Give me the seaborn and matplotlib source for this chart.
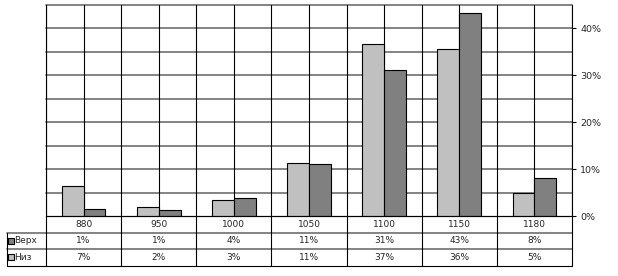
import numpy as np
import pandas as pd
import matplotlib
matplotlib.use("Agg")
import matplotlib.pyplot as plt
from matplotlib.patches import Rectangle
import seaborn as sns

categories = ['880', '950', '1000', '1050', '1100', '1150', '1180']
verkh = [1.5, 1.2, 3.8, 11.0, 31.1, 43.3, 8.0]
niz = [6.5, 1.9, 3.4, 11.4, 36.6, 35.6, 5.0]
verkh_labels = ['1%', '1%', '4%', '11%', '31%', '43%', '8%']
niz_labels = ['7%', '2%', '3%', '11%', '37%', '36%', '5%']
series_names = ['Верх', 'Низ']
colors = {'Верх': '#808080', 'Низ': '#C0C0C0'}
y_ticks = [0, 10, 20, 30, 40]
y_tick_labels = ['0%', '10%', '20%', '30%', '40%']

sns.set_style('white')
plt.rcParams['font.family'] = ['DejaVu Sans']

df = pd.DataFrame({
    'cat': categories * 2,
    'val': verkh + niz,
    'series': ['Верх'] * len(categories) + ['Низ'] * len(categories),
})

W, H = 618, 276
fig = plt.figure(figsize=(W / 100, H / 100), dpi=100)
fig.patch.set_facecolor('white')

px_left, px_right, px_top, px_bottom = 46, 572, 5, 216
ax = fig.add_axes([px_left / W, 1 - px_bottom / H,
                   (px_right - px_left) / W, (px_bottom - px_top) / H])

sns.barplot(data=df, x='cat', y='val', hue='series', order=categories,
            hue_order=['Низ', 'Верх'], palette=colors, width=0.58,
            edgecolor='black', linewidth=0.8, saturation=1, legend=False,
            ax=ax, zorder=3)

n = len(categories)
ax.set_xlim(-0.5, n - 0.5)
ax.set_ylim(0, 45)
for yv in np.arange(5, 46, 5):
    ax.axhline(yv, color='#7a7a7a', lw=1.3, zorder=1, clip_on=False)
for xv in np.arange(-0.5, n, 0.5):
    ax.axvline(xv, color='black', lw=0.8, zorder=1)

ax.set_xticks([])
ax.set_xlabel('')
ax.set_ylabel('')
ax.yaxis.tick_right()
ax.set_yticks(y_ticks)
ax.set_yticklabels(y_tick_labels, fontsize=6.8)
ax.tick_params(axis='y', length=3, width=0.8, color='black', pad=3, right=True, left=False)
for s in ['left', 'right', 'bottom']:
    ax.spines[s].set_visible(True)
    ax.spines[s].set_color('black')
    ax.spines[s].set_linewidth(0.8)
ax.spines['top'].set_visible(False)

# data table
t_left, t_top, t_bottom = 7, 216, 265.5
cat_w = (px_right - px_left) / n
x_left_data = -0.5 - (px_left - t_left) / cat_w
tab = fig.add_axes([t_left / W, 1 - t_bottom / H,
                    (px_right - t_left) / W, (t_bottom - t_top) / H])
tab.set_xlim(x_left_data, n - 0.5)
tab.set_ylim(3, 0)
tab.axis('off')

tab.plot([-0.5, n - 0.5], [0, 0], color='black', lw=0.8, clip_on=False)
tab.plot([x_left_data, n - 0.5], [1, 1], color='#7a7a7a', lw=1.3, clip_on=False)
tab.plot([x_left_data, n - 0.5], [2, 2], color='#7a7a7a', lw=1.3, clip_on=False)
tab.plot([x_left_data, n - 0.5], [3, 3], color='black', lw=0.8, clip_on=False)
for xv in np.arange(-0.5, n, 1.0):
    tab.plot([xv, xv], [0, 3], color='black', lw=0.8, clip_on=False)
tab.plot([x_left_data, x_left_data], [1, 3], color='black', lw=0.8, clip_on=False)

fs = 6.5
for i, c in enumerate(categories):
    tab.text(i, 0.5, c, ha='center', va='center', fontsize=fs)
    tab.text(i, 1.5, verkh_labels[i], ha='center', va='center', fontsize=fs)
    tab.text(i, 2.5, niz_labels[i], ha='center', va='center', fontsize=fs)

key_w = 5.5 / cat_w
for r, name in enumerate(series_names):
    yc = 1.5 + r
    tab.add_patch(Rectangle((x_left_data + 1.0 / cat_w, yc - 0.17), key_w, 0.34,
                            facecolor=colors[name], edgecolor='black', lw=0.8,
                            clip_on=False))
    tab.text(x_left_data + 7.5 / cat_w, yc, name, ha='left', va='center', fontsize=fs)

fig.savefig('out.png', dpi=100, facecolor='white')
